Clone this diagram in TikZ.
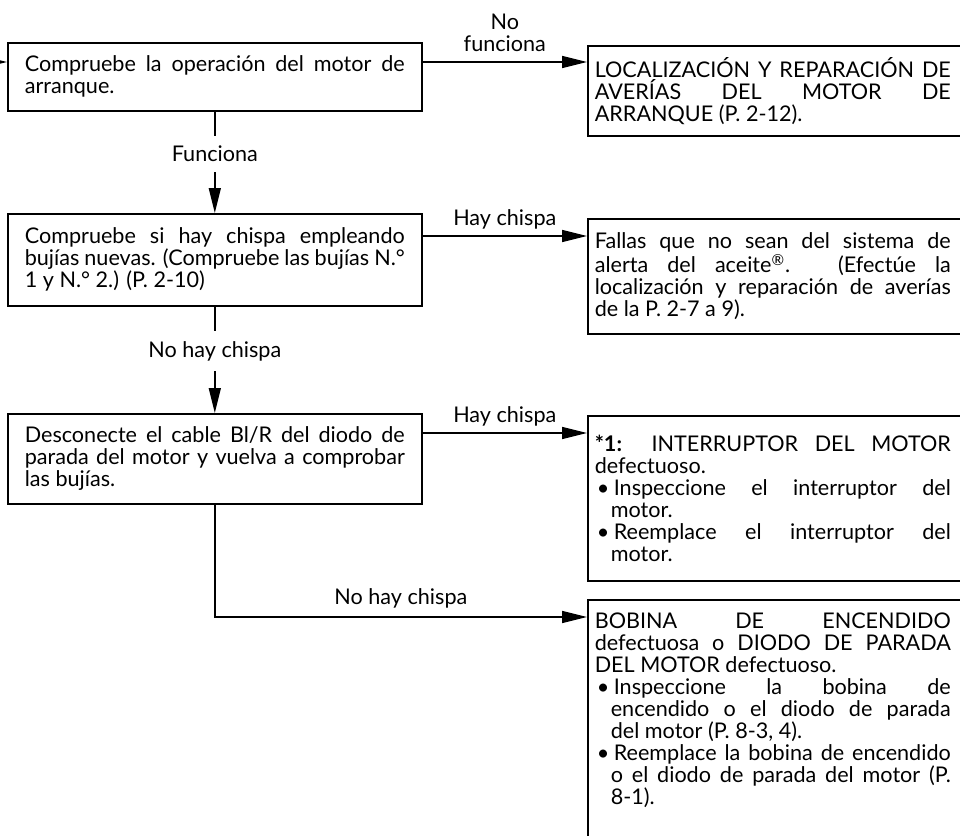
\documentclass[tikz,border=0pt]{standalone}
\usepackage{fontspec}
\setmainfont{Lato}
\usetikzlibrary{arrows.meta, positioning, calc}
\newcommand{\fbody}{\fontsize{10.8}{11}\selectfont\hyphenpenalty=10000\exhyphenpenalty=10000}
\newcommand{\itemline}{\par\noindent\hangindent=8pt\hangafter=1\makebox[8pt][l]{\hspace{1pt}\textbullet}\hspace{1.5pt}}

\begin{document}
\begin{tikzpicture}[x=0.5pt, y=-0.5pt,
      stepbox/.style={rectangle, draw, line width=0.8pt, anchor=north west,
                  text width=190pt, inner xsep=8.5pt, align=justify,
                  font=\fbody},
      resbox/.style={rectangle, draw, line width=0.8pt, anchor=north west,
                  text width=192pt, inner xsep=3.5pt, align=justify, font=\fbody},
      arrow/.style={-{Triangle[length=12.5pt, width=6pt]}, line width=0.8pt},
      lbl/.style={font=\fbody, inner sep=2pt, align=center}
    ]
    \useasboundingbox (0,0) rectangle (960,836);
    \clip (0,0) rectangle (960,836);

    % Check steps (left column)
    \node[stepbox, minimum height=34pt] (b1) at (7,42)
      {Compruebe la operación del motor de\linebreak arranque.};
    \node[stepbox, minimum height=46pt] (b2) at (7,213)
      {Compruebe si hay chispa empleando\linebreak bujías nuevas. (Compruebe las bujías N.°\linebreak 1 y N.° 2.) (P. 2-10)};
    \node[stepbox, minimum height=45pt] (b3) at (7,413)
      {Desconecte el cable Bl/R del diodo de\linebreak parada del motor y vuelva a comprobar\linebreak las bujías.};

    % Results (right column)
    \node[resbox, minimum height=45pt] (r1) at (587,45)
      {\parbox{178pt}{LOCALIZACIÓN Y REPARACIÓN DE\linebreak AVERÍAS DEL MOTOR DE\linebreak ARRANQUE (P. 2-12).}};
    \node[resbox, minimum height=57.5pt] (r2) at (587,218)
      {\parbox{178pt}{Fallas que no sean del sistema de\linebreak alerta del aceite\textsuperscript{®}. (Efectúe la\linebreak localización y reparación de averías\linebreak de la P. 2-7 a 9).}};
    \node[resbox, minimum height=82.5pt] (r3) at (587,415)
      {\parbox{178pt}{\textbf{*1:} INTERRUPTOR DEL MOTOR\linebreak defectuoso.
        \itemline Inspeccione el interruptor del\linebreak motor.
        \itemline Reemplace el interruptor del\linebreak motor.}};
    \node[resbox, inner ysep=6.5pt, text depth=120pt] (r4) at (587,599)
      {\parbox[t]{178pt}{BOBINA DE ENCENDIDO\linebreak defectuosa o DIODO DE PARADA\linebreak DEL MOTOR defectuoso.
        \itemline Inspeccione la bobina de\linebreak encendido o el diodo de parada\linebreak del motor (P. 8-3, 4).
        \itemline Reemplace la bobina de encendido\linebreak o el diodo de parada del motor (P.\linebreak 8-1).}};

    % Incoming arrow
    \coordinate (in) at ([shift={(-15pt,-10pt)}]b1.north west);
    \draw[arrow] (in) -- (in -| b1.west);

    % Branches
    \draw[arrow] ([yshift=-10pt]b1.north east) coordinate (p1)
      -- node[lbl, above, inner ysep=5pt]{No\\funciona} (p1 -| r1.west);
    \draw[arrow] ([yshift=-11.5pt]b2.north east) coordinate (p2)
      -- node[lbl, above, inner ysep=3pt]{Hay chispa} (p2 -| r2.west);
    \draw[arrow] ([yshift=-10pt]b3.north east) coordinate (p3)
      -- node[lbl, above, inner ysep=3pt]{Hay chispa} (p3 -| r3.west);

    \draw[arrow] (b1) -- node[lbl, fill=white, inner ysep=5pt, pos=0.42]{Funciona} (b2);
    \draw[arrow] (b2) -- node[lbl, fill=white, inner ysep=5pt, pos=0.42]{No hay chispa} (b3);
    \draw[arrow] (b3.south) |- node[lbl, above, pos=0.75, inner ysep=4pt]{No hay chispa}
      ([yshift=-9pt]r4.north west);

  \end{tikzpicture}
\end{document}
